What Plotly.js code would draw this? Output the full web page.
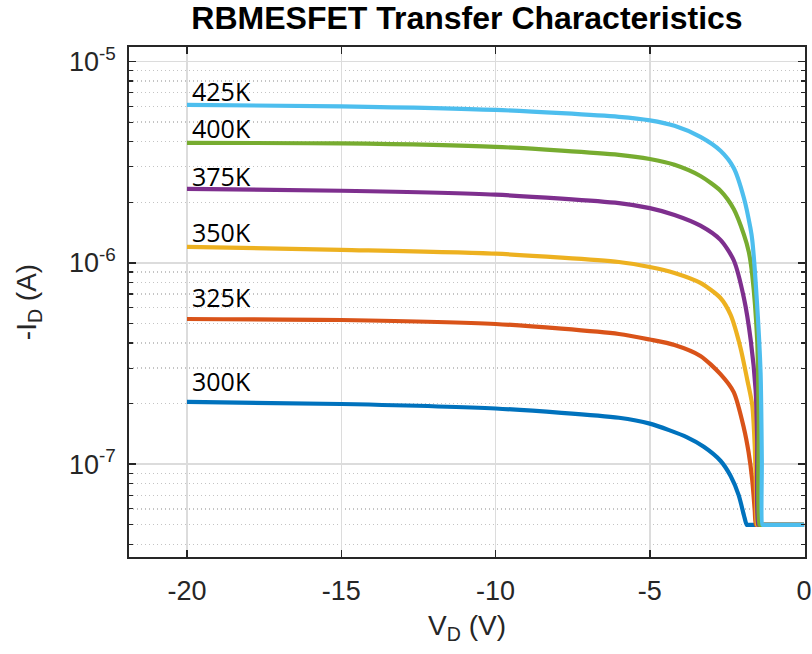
<!DOCTYPE html>
<html>
<head>
<meta charset="utf-8">
<script src="https://cdn.plot.ly/plotly-3.0.1.min.js"></script>
<style>html,body{margin:0;padding:0;background:#fff;}#chart{width:812px;height:654px;}</style>
</head>
<body>
<div id="chart"></div>
<script>
// Drain voltage (V) and drain current magnitude (A) per temperature
const temps = ["300K", "325K", "350K", "375K", "400K", "425K"];
const colors = ["#0072BD", "#D95319", "#EDB120", "#7E2F8E", "#77AC30", "#4DBEEE"];

const V300 = [-20, -15, -10, -6, -5, -3.79, -3.25, -2.71, -2.38, -2.12, -1.95, -1.86, -1.82, 0];
const I300 = [2.04e-7, 1.99e-7, 1.89e-7, 1.70e-7, 1.59e-7, 1.36e-7, 1.22e-7, 1.04e-7, 8.73e-8, 7.02e-8, 5.58e-8, 5.0e-8, 5.0e-8, 5.0e-8];

const V325 = [-20, -15, -10, -6, -5, -4.2, -3.36, -2.71, -2.28, -1.95, -1.80, -1.68, -1.60, -1.56, -1.52, 0];
const I325 = [5.26e-7, 5.20e-7, 4.97e-7, 4.43e-7, 4.16e-7, 3.91e-7, 3.45e-7, 2.80e-7, 2.28e-7, 1.51e-7, 1.15e-7, 8.34e-8, 5.91e-8, 5.0e-8, 5.0e-8, 5.0e-8];

const V350 = [-20, -15, -10, -6, -5, -4.2, -3.36, -2.71, -2.38, -2.06, -1.84, -1.68, -1.60, -1.55, -1.53, -1.49, 0];
const I350 = [1.20e-6, 1.16e-6, 1.11e-6, 1.01e-6, 9.54e-7, 8.91e-7, 7.95e-7, 6.69e-7, 5.51e-7, 3.78e-7, 2.62e-7, 1.97e-7, 1.24e-7, 6.63e-8, 5.0e-8, 5.0e-8, 5.0e-8];

const V375 = [-20, -15, -10, -6, -5, -4.2, -3.36, -2.71, -2.28, -1.95, -1.73, -1.57, -1.52, -1.49, -1.45, 0];
const I375 = [2.33e-6, 2.28e-6, 2.18e-6, 1.98e-6, 1.87e-6, 1.73e-6, 1.53e-6, 1.30e-6, 1.03e-6, 6.69e-7, 4.14e-7, 2.33e-7, 1.32e-7, 5.0e-8, 5.0e-8, 5.0e-8];

const V400 = [-20, -15, -10, -6, -5, -4.2, -3.36, -2.71, -2.28, -1.95, -1.79, -1.68, -1.52, -1.47, -1.45, -1.41, 0];
const I400 = [3.94e-6, 3.92e-6, 3.77e-6, 3.44e-6, 3.28e-6, 3.07e-6, 2.70e-6, 2.28e-6, 1.85e-6, 1.38e-6, 1.13e-6, 8.71e-7, 4.14e-7, 1.66e-7, 5.0e-8, 5.0e-8, 5.0e-8];

const V425 = [-20, -15, -10, -6, -5, -4.2, -3.36, -2.71, -2.28, -1.95, -1.74, -1.68, -1.52, -1.41, -1.37, -1.35, -1.31, 0];
const I425 = [6.09e-6, 5.99e-6, 5.75e-6, 5.31e-6, 5.10e-6, 4.79e-6, 4.22e-6, 3.60e-6, 2.96e-6, 2.10e-6, 1.49e-6, 1.30e-6, 6.11e-7, 2.84e-7, 1.05e-7, 5.0e-8, 5.0e-8, 5.0e-8];

const Vs = [V300, V325, V350, V375, V400, V425];
const Is = [I300, I325, I350, I375, I400, I425];

const xTickVals = [-20, -15, -10, -5, 0];
const xTickText = ["-20", "-15", "-10", "-5", "0"];
const yTickVals = [1e-7, 1e-6, 1e-5];
const yTickText = ["10<sup>-7</sup>", "10<sup>-6</sup>", "10<sup>-5</sup>"];

const labelShift = [21, 22, 15, 13, 15, 14];

// minor log ticks (2..9 x each decade)
const minorVals = [];
for (let d = -8; d <= -5; d++) {
  for (let m = 2; m <= 9; m++) minorVals.push(m * Math.pow(10, d));
}

const traces = temps.map((t, i) => ({
  x: Vs[i], y: Is[i], type: "scatter", mode: "lines", name: t,
  line: {color: colors[i], width: 4.2, shape: "spline", smoothing: 0.7}
}));

const annotations = temps.map((t, i) => ({
  x: Vs[i][0], y: Math.log10(Is[i][0]), xref: "x", yref: "y",
  text: t, showarrow: false, xanchor: "left", yanchor: "middle",
  xshift: 3, yshift: labelShift[i],
  font: {family: "Open Sans", size: 25, color: "#000"}
}));

const axisCol = "#262626";
const tickFont = {family: "Liberation Sans, Arial, sans-serif", size: 27, color: axisCol};

const layout = {
  width: 812, height: 654,
  margin: {l: 129, r: 7, t: 47, b: 97},
  paper_bgcolor: "#fff", plot_bgcolor: "#fff",
  showlegend: false,
  title: {
    text: "<b>RBMESFET Transfer Characteristics</b>",
    font: {family: "Liberation Sans, Arial, sans-serif", size: 32, color: "#000"},
    x: 0.5, xref: "paper", xanchor: "center",
    y: 0.973, yref: "container", yanchor: "middle"
  },
  xaxis: {
    range: [-21.88, 0.03],
    tickmode: "array", tickvals: xTickVals, ticktext: xTickText,
    ticks: "inside", ticklen: 7, tickwidth: 1.5, tickcolor: axisCol,
    showline: true, linecolor: axisCol, linewidth: 1.8, mirror: "ticks",
    showgrid: true, gridcolor: "#dcdcdc", gridwidth: 1.5,
    zeroline: false,
    tickfont: tickFont,
    ticklabelstandoff: 9,
    title: {text: "V<sub>D</sub> (V)", font: {family: "Liberation Sans, Arial, sans-serif", size: 28, color: axisCol}, standoff: 10}
  },
  yaxis: {
    type: "log",
    range: [-7.461, -4.928],
    tickmode: "array", tickvals: yTickVals, ticktext: yTickText,
    ticks: "inside", ticklen: 7, tickwidth: 1.5, tickcolor: axisCol,
    showline: true, linecolor: axisCol, linewidth: 1.8, mirror: "ticks",
    showgrid: true, gridcolor: "#dcdcdc", gridwidth: 1.5,
    zeroline: false,
    tickfont: tickFont,
    ticklabelstandoff: 6,
    minor: {
      tickmode: "array", tickvals: minorVals,
      ticks: "inside", ticklen: 4, tickwidth: 1.2, tickcolor: axisCol,
      showgrid: true, gridcolor: "#c4c4c4", gridwidth: 1.3, griddash: "1px,3px"
    },
    title: {text: "-I<sub>D</sub> (A)", font: {family: "Liberation Sans, Arial, sans-serif", size: 28, color: axisCol}, standoff: 24}
  },
  annotations: annotations
};

Plotly.newPlot("chart", traces, layout, {displayModeBar: false, staticPlot: true});
</script>
</body>
</html>
